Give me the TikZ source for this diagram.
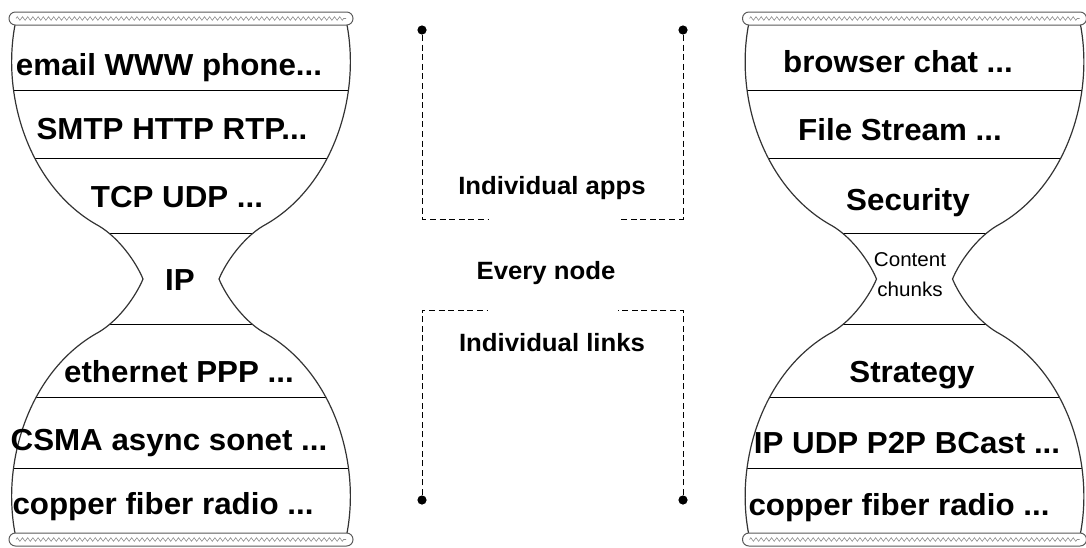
\documentclass[tikz,border=0pt]{standalone}
\usepackage{fontspec}
\setmainfont{Liberation Sans}[FakeStretch=1.03]
\usepackage{tikz}
\usetikzlibrary{decorations.pathmorphing}

% one side of an hourglass, cap to cap, centred on (0,0)
\newcommand{\hourglassside}{(166,-254) .. controls (180,-180) and (150,-90) .. (82,-53)
  .. controls (62,-41) and (45,-17) .. (38,0)
  .. controls (45,17) and (62,41) .. (82,53)
  .. controls (150,90) and (180,180) .. (166,254)}

\begin{document}
\begin{tikzpicture}[
    x=0.5pt, y=-0.5pt,
    outline/.style={draw=black!80, line width=0.6pt},
    layerline/.style={draw=black, line width=0.5pt},
    capbar/.style={draw=black!65, fill=white, line width=0.5pt, rounded corners=3.2pt},
    capzig/.style={draw=black!45, line width=0.3pt, decorate, decoration={zigzag, segment length=2.6pt, amplitude=0.9pt}},
    layer/.style={font=\fontsize{15.2}{18}\selectfont\bfseries, anchor=base, inner sep=0pt},
    chunk/.style={font=\fontsize{10}{15}\selectfont, align=center, inner sep=0pt},
    mid/.style={font=\fontsize{12.5}{15}\selectfont\bfseries, anchor=base, inner sep=0pt},
    dot/.style={circle, fill=black, minimum size=4.6pt, inner sep=0pt},
    bracket/.style={draw=black, line width=0.5pt, dash pattern=on 3pt off 1.8pt}
]
\useasboundingbox (0,0) rectangle (1086,547);

% Hourglasses
\foreach \cx in {181,914.5} {
  \begin{scope}[shift={(\cx,279)}]
    \foreach \s in {1,-1} {
      \begin{scope}[xscale=\s]
        \clip \hourglassside -- (-4,254) -- (-4,-254) -- cycle;
        \foreach \ly in {-189,-121,-46,45,118,189}
          \draw[layerline] (-4,\ly) -- (200,\ly);
      \end{scope}
      \draw[outline, xscale=\s] \hourglassside;
    }
    \draw[capbar] (-172,-267) rectangle (172,-254);
    \draw[capzig] (-165,-260.5) -- (165,-260.5);
    \draw[capbar] (-172,254) rectangle (172,267);
    \draw[capzig] (-165,260.5) -- (165,260.5);
  \end{scope}
}

% Nodes
\node[layer] (email) at (169,75) {email WWW phone...};
\node[layer] (smtp) at (172,139) {SMTP HTTP RTP...};
\node[layer] (tcp) at (177,207) {TCP UDP ...};
\node[layer] (ip) at (180,290) {IP};
\node[layer] (ethernet) at (179,382) {ethernet PPP ...};
\node[layer] (csma) at (169,450) {CSMA async sonet ...};
\node[layer] (copperL) at (163,514) {copper fiber radio ...};

\node[layer] (browser) at (898,72) {browser chat ...};
\node[layer] (stream) at (900,140) {File Stream ...};
\node[layer] (security) at (908,210) {Security};
\node[chunk] (chunks) at (910,275) {Content\\chunks};
\node[layer] (strategy) at (912,382) {Strategy};
\node[layer] (bcast) at (907,453) {IP UDP P2P BCast ...};
\node[layer] (copperR) at (899,515) {copper fiber radio ...};

\node[mid] (apps) at (552,194) {Individual apps};
\node[mid] (every) at (546,279) {Every node};
\node[mid] (links) at (552,351) {Individual links};

\node[dot] (appsL) at (422,30) {};
\node[dot] (appsR) at (683,30) {};
\node[dot] (linksL) at (422,500) {};
\node[dot] (linksR) at (683,500) {};

\coordinate (appsLend) at (488,219);
\coordinate (appsRend) at (618,219);
\coordinate (linksLend) at (488,310);
\coordinate (linksRend) at (618,310);

% Edges
\draw[bracket] (appsL) |- (appsLend);
\draw[bracket] (appsR) |- (appsRend);
\draw[bracket] (linksL) |- (linksLend);
\draw[bracket] (linksR) |- (linksRend);

\end{tikzpicture}
\end{document}
